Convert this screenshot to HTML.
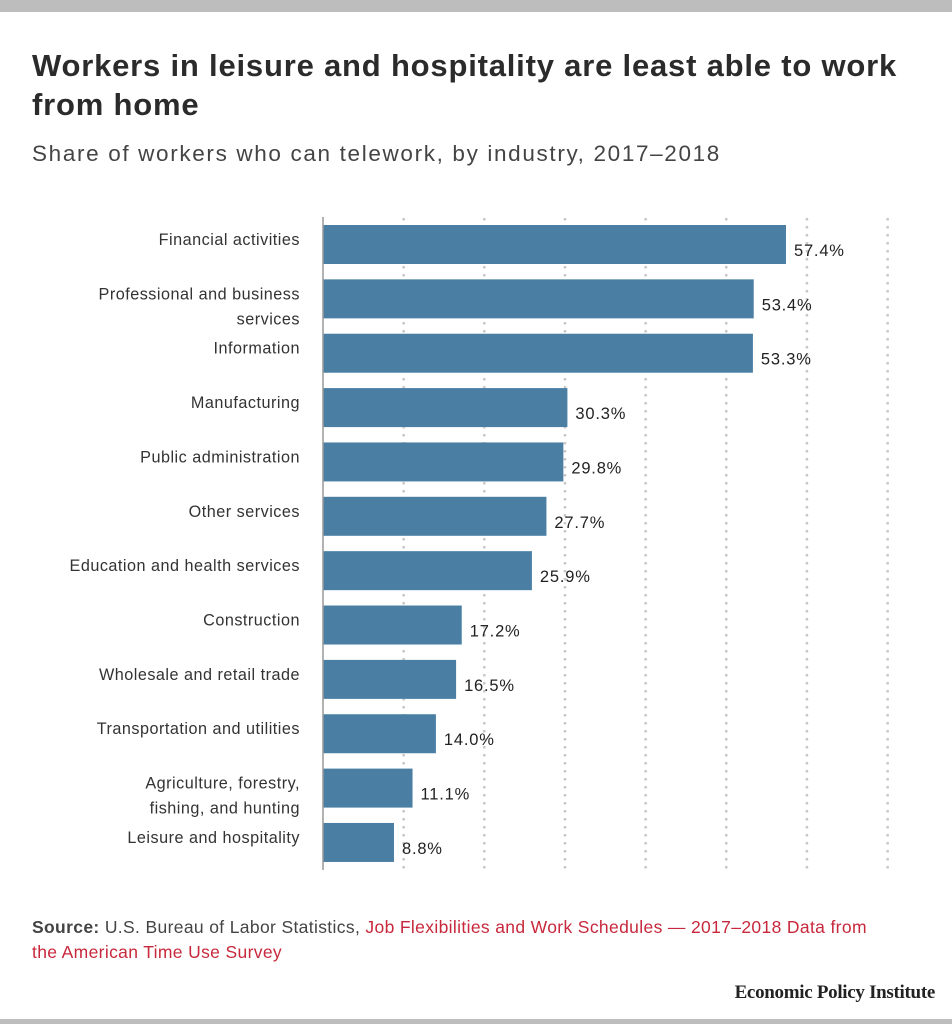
<!DOCTYPE html>
<html><head><meta charset="utf-8"><style>
body{margin:0;background:#fff;font-family:"Liberation Sans",sans-serif;}
#wrap{position:relative;width:952px;height:1024px;overflow:hidden;background:#fff}
.t{position:absolute;margin:0}
</style></head><body>
<div id="wrap">
<div class="t" style="left:0;top:0;width:952px;height:12px;background:#bdbdbd"></div>
<h1 class="t" style="left:32px;top:46px;width:900px;font-size:31px;letter-spacing:0.8px;line-height:39px;font-weight:bold;color:#2b2b2b">Workers in leisure and hospitality are least able to work from home</h1>
<div class="t" style="left:32px;top:141px;font-size:22.5px;letter-spacing:1.65px;color:#444">Share of workers who can telework, by industry, 2017–2018</div>
<svg class="t" style="left:0;top:0" width="952" height="1024" id="chart"></svg>
<div class="t" style="left:32px;top:915px;width:850px;font-size:17.5px;letter-spacing:0.35px;line-height:25px;color:#444"><b>Source:</b> U.S. Bureau of Labor Statistics, <span style="color:#c8283c">Job Flexibilities and Work Schedules — 2017–2018 Data from the American Time Use Survey</span></div>
<div class="t" style="right:17px;top:982px;font-family:'Liberation Serif',serif;font-weight:bold;font-size:19px;color:#222;letter-spacing:-0.3px">Economic Policy Institute</div>
<div class="t" style="left:0;top:1019px;width:952px;height:5px;background:#bdbdbd"></div>
</div>
<script>
const categories=["Financial activities","Professional and business|services","Information","Manufacturing","Public administration","Other services","Education and health services","Construction","Wholesale and retail trade","Transportation and utilities","Agriculture, forestry,|fishing, and hunting","Leisure and hospitality"];
const values=[57.4,53.4,53.3,30.3,29.8,27.7,25.9,17.2,16.5,14.0,11.1,8.8];
const gridTicks=[10,20,30,40,50,60,70];
const svg=document.getElementById('chart');
const NS='http://www.w3.org/2000/svg';
const x0=323,pxPer=8.066,top0=225,step=54.36,bh=39;
const xs=v=>x0+v*pxPer;
function mk(t,a){const e=document.createElementNS(NS,t);for(const k in a)e.setAttribute(k,a[k]);svg.appendChild(e);return e;}
gridTicks.forEach(g=>{
 const l=mk('line',{x1:xs(g),x2:xs(g),y1:218,y2:870,stroke:'#c8c8c8','stroke-width':2.5,'stroke-dasharray':'2.5 5.5'});
 
 
});
categories.forEach((c,i)=>{
 const y=top0+i*step;
 const r=mk('rect',{x:x0,y:y,width:xs(values[i])-x0,height:bh,fill:'#4a7fa3'});
 
 
 const lines=c.split('|');
 const t=mk('text',{x:300,y:y+20,'text-anchor':'end','font-size':16.2,'letter-spacing':0.5,fill:'#333','font-family':'Liberation Sans, sans-serif'});
 
 
 lines.forEach((s,j)=>{const ts=document.createElementNS(NS,'tspan');ts.setAttribute('x',300);ts.setAttribute('dy',j?25:0);ts.textContent=s;t.appendChild(ts);});
 const v=mk('text',{x:xs(values[i])+8,y:y+31,'font-size':16.5,'letter-spacing':0.8,fill:'#222','font-family':'Liberation Sans, sans-serif'});
 v.textContent=values[i].toFixed(1)+'%';
 
 
});
const ax=mk('line',{x1:x0,x2:x0,y1:217,y2:870,stroke:'#999','stroke-width':1.5});


</script>
</body></html>
